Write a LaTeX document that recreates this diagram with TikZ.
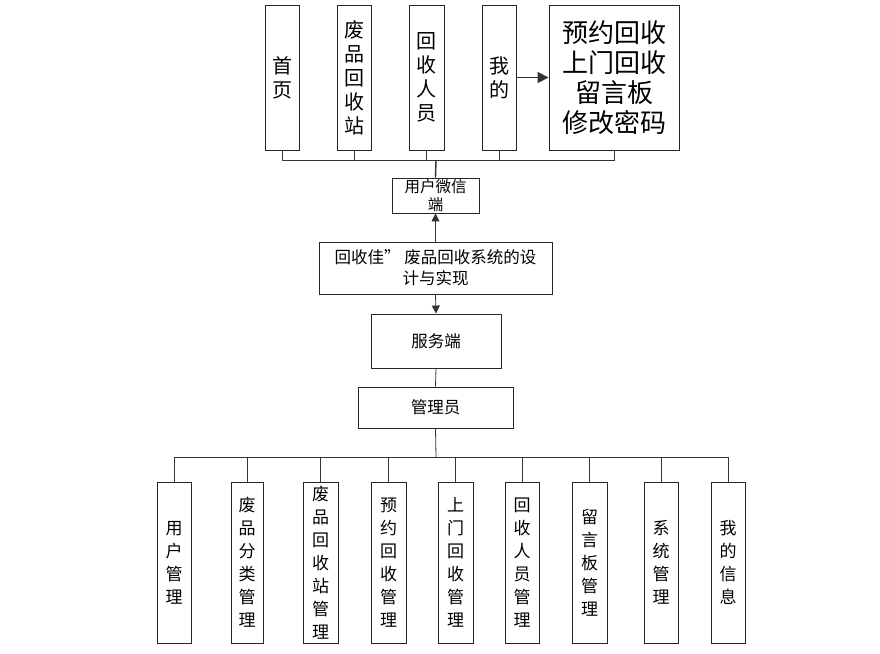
\documentclass[tikz,border=0pt]{standalone}
\usepackage{fontspec}
\setmainfont{Noto Sans CJK SC}
\usepackage{tikz}
\usetikzlibrary{arrows.meta}

\tikzset{
    box/.style={draw=black!85, line width=0.9pt, fill=white, inner sep=0pt, align=center},
    tallbox/.style={box, minimum width=34, minimum height=145, font=\fontsize{20}{24}\selectfont},
    subbox/.style={box, minimum width=34, minimum height=161, font=\fontsize{17}{23}\selectfont},
    wire/.style={draw=black!80, line width=0.8pt},
    tip/.style={wire, -{Triangle[length=8pt, width=8pt]}}
}

\begin{document}
\begin{tikzpicture}[x=1pt, y=-1pt]
    \useasboundingbox (0,0) rectangle (880,653);

    % user wechat side

    \node[tallbox] (home) at (282,77.5) {首\\页};
    \node[tallbox] (station) at (354,77.5) {废\\品\\回\\收\\站};
    \node[tallbox, minimum width=35] (staff) at (426.5,77.5) {回\\收\\人\\员};
    \node[tallbox] (mine) at (499,77.5) {我\\的};
    \node[box, minimum width=130, minimum height=145, font=\fontsize{26}{30}\selectfont] (board) at (614,77.5) {预约回收\\上门回收\\留言板\\修改密码};
    \node[box, minimum width=87, minimum height=35, font=\fontsize{15.5}{18}\selectfont] (wx) at (435.5,195.5) {用户微信\\端};

    \coordinate (tbus) at (436,160);
    \draw[wire] (home.south) |- (tbus);
    \draw[wire] (station.south) |- (tbus);
    \draw[wire] (staff.south) |- (tbus);
    \draw[wire] (mine.south) |- (tbus);
    \draw[wire] (board.south) |- (tbus);
    \draw[wire, line width=1.4pt] (wx.north) -- (tbus);
    \draw[tip, line width=1.6pt, -{Triangle[length=11pt, width=11pt]}] (mine.east) -- (board.west);

    % system and server

    \node[box, minimum width=233, minimum height=52, font=\fontsize{16.5}{21}\selectfont] (sys) at (435.5,268) {回收佳”\ 废品回收系统的设\\计与实现};
    \node[box, minimum width=130, minimum height=54, font=\fontsize{16.5}{18}\selectfont] (srv) at (436,341) {服务端};
    \node[box, minimum width=155, minimum height=41, font=\fontsize{16.5}{18}\selectfont] (adm) at (435.5,407.5) {管理员};

    \draw[tip] (sys.north) -- (wx.south);
    \draw[tip] (sys.south) -- (srv.north);
    \draw[wire] (srv.south) -- (adm.north);

    % administrator side

    \node[subbox] (users) at (174,562.5) {用\\户\\管\\理};
    \node[subbox, minimum width=32] (kinds) at (247,562.5) {废\\品\\分\\类\\管\\理};
    \node[subbox, minimum width=35] (stations) at (320.5,562.5) {废\\品\\回\\收\\站\\管\\理};
    \node[subbox, minimum width=35] (booking) at (388.5,562.5) {预\\约\\回\\收\\管\\理};
    \node[subbox, minimum width=35] (pickup) at (455.5,562.5) {上\\门\\回\\收\\管\\理};
    \node[subbox] (staffs) at (522,562.5) {回\\收\\人\\员\\管\\理};
    \node[subbox, minimum width=35] (msgs) at (589.5,562.5) {留\\言\\板\\管\\理};
    \node[subbox] (sysm) at (661,562.5) {系\\统\\管\\理};
    \node[subbox] (info) at (728,562.5) {我\\的\\信\\息};

    \coordinate (bbus) at (436,457);
    \draw[wire] (adm.south) -- (bbus);
    \draw[wire] (users.north) |- (bbus);
    \draw[wire] (kinds.north) |- (bbus);
    \draw[wire] (stations.north) |- (bbus);
    \draw[wire] (booking.north) |- (bbus);
    \draw[wire] (pickup.north) |- (bbus);
    \draw[wire] (staffs.north) |- (bbus);
    \draw[wire] (msgs.north) |- (bbus);
    \draw[wire] (sysm.north) |- (bbus);
    \draw[wire] (info.north) |- (bbus);

\end{tikzpicture}
\end{document}
